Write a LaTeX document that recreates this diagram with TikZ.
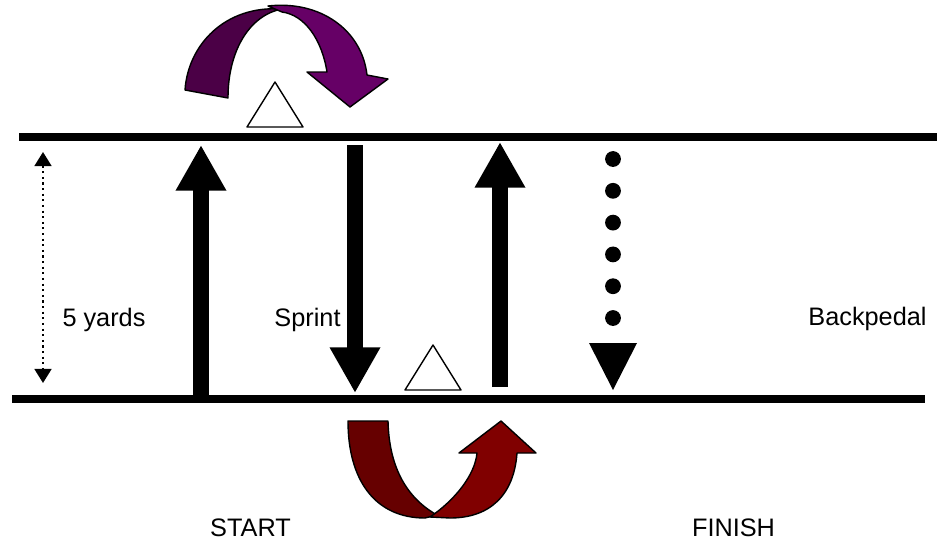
\documentclass[tikz,border=0pt]{standalone}
\usepackage{fontspec}
\setmainfont{Liberation Sans}
\usetikzlibrary{arrows.meta}
\definecolor{plumdark}{HTML}{4B0046}
\definecolor{plum}{HTML}{660066}
\definecolor{maroondark}{HTML}{660000}
\definecolor{maroon}{HTML}{800000}

\begin{document}
\begin{tikzpicture}[x=0.02cm,y=-0.02cm,line join=round,
          rail/.style={line width=4.5pt},
          run/.style={line width=9pt,-{Triangle[length=26pt,width=27pt]}},
          gauge/.style={line width=1.2pt,dotted,
                        {Triangle[length=8pt,width=9.6pt]}-{Triangle[length=8pt,width=9.6pt]}},
          cone/.style={draw,fill=white,line width=0.8pt},
          turn/.style={draw=black,line width=0.8pt},
          lab/.style={font=\fontsize{14.4}{17}\selectfont,anchor=base}]
        \useasboundingbox (0,0) rectangle (937,545);
        % lines
        \draw[rail] (19,137) -- (937,137);
        \draw[rail] (12,399) -- (925,399);
        % distance
        \coordinate (gtop) at (43,152);
        \coordinate (gbot) at (43,383);
        \draw[gauge] (gtop) -- (gbot);
        \node[lab] (yards) at (104,326) {5 yards};
        % runs
        \coordinate (r1s) at (201,399);
        \coordinate (r1e) at (201,145);
        \coordinate (r2s) at (355,145);
        \coordinate (r2e) at (355,393);
        \coordinate (r3s) at (500,387);
        \coordinate (r3e) at (500,142);
        \draw[run] (r1s) -- (r1e);
        \draw[run] (r2s) -- (r2e);
        \draw[run] (r3s) -- (r3e);
        \node[lab] (sprint) at (307.5,326) {Sprint};
        % backpedal
        \foreach \k in {0,...,5}
          \fill (613,{159+31.8*\k}) circle (4.5pt);
        \fill (589,343) -- (637,343) -- (613,390) -- cycle;
        \node[lab] (back) at (867.5,325) {Backpedal};
        % cones
        \draw[cone] (247,127) -- (275,82) -- (303,127) -- cycle;
        \draw[cone] (405,390) -- (433,345) -- (461,390) -- cycle;
        % turns
        \draw[turn,fill=plumdark] (185,90) .. controls (188,45) and (225,5) .. (282,9)
              .. controls (250,15) and (228,50) .. (228,98) -- cycle;
        \draw[turn,fill=plum] (268,6) .. controls (320,0) and (362,30) .. (367,75)
              -- (388,79) -- (350,107) -- (307,72) -- (327,72)
              .. controls (322,40) and (305,15) .. (282,12) -- cycle;
        \draw[turn,fill=maroondark] (348,421) -- (388,421)
              .. controls (389,465) and (405,497) .. (437,515) -- (425,518)
              .. controls (375,518) and (348,480) .. (348,421) -- cycle;
        \draw[turn,fill=maroon] (430,517) .. controls (455,500) and (475,475) .. (477,453)
              -- (459,453) -- (501,421) -- (536,453) -- (517,453)
              .. controls (514,495) and (490,518) .. (450,518) -- cycle;
        \node[lab] (start) at (250.5,536) {START};
        \node[lab] (finish) at (733.5,536) {FINISH};
      \end{tikzpicture}
\end{document}
